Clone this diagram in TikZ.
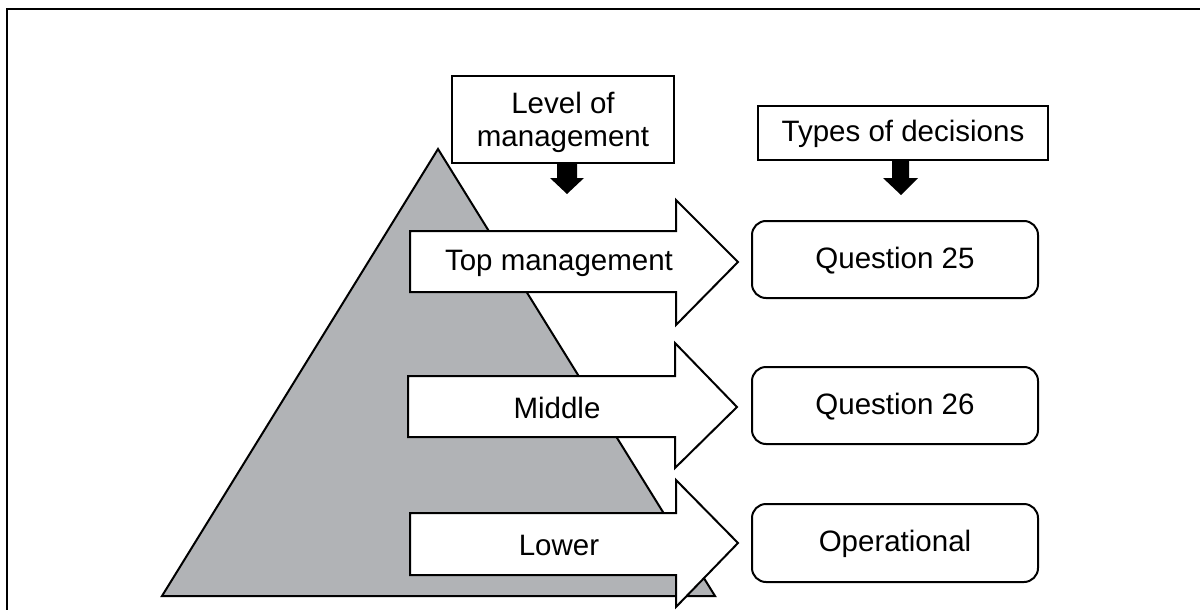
\documentclass[tikz,border=0pt]{standalone}
\usepackage{fontspec}
\setmainfont{Liberation Sans}
\tikzset{
  pyr/.style={draw=black, line width=2pt, fill=pyrgray, line join=miter},
  bigarrow/.style={draw=black, line width=2pt, fill=white, line join=miter},
  hdrbox/.style={draw=black, line width=1.6pt, fill=white},
  decbox/.style={draw=black, line width=2pt, fill=white, rounded corners=14pt},
  downarrow/.style={fill=black, draw=none},
  lbl/.style={font=\fontsize{29.5}{33}\selectfont, align=center, inner sep=0pt},
}
\definecolor{pyrgray}{HTML}{B1B3B6}
\begin{document}
\begin{tikzpicture}[x=1pt, y=-1pt]
\useasboundingbox (0,0) rectangle (1200,610);
% frame
\draw[line width=2.5pt] (7,610) -- (7,9) -- (1200,9);
% pyramid
\draw[pyr] (438,149) -- (715,596) -- (162,596) -- cycle;
% header boxes
\draw[hdrbox] (452,76) rectangle (674,163);
\node[lbl] (lvl) at (563,122) {Level of\\management};
\draw[hdrbox] (758,106) rectangle (1048,160);
\node[lbl] (types) at (903,134) {Types of decisions};
% black down arrows
\fill[downarrow] (557,163) -- (577,163) -- (577,178) -- (584,178) -- (567,194) -- (550,178) -- (557,178) -- cycle;
\fill[downarrow] (892,160) -- (909,160) -- (909,178) -- (918,178) -- (901,195) -- (883,178) -- (892,178) -- cycle;
% big arrows
\draw[bigarrow] (410,231) -- (676,231) -- (676,200) -- (738,262) -- (676,325) -- (676,292) -- (410,292) -- cycle;
\node[lbl] (top) at (559,263) {Top management};
\draw[bigarrow] (408,376) -- (675,376) -- (675,343) -- (737,407) -- (675,468) -- (675,437) -- (408,437) -- cycle;
\node[lbl] (mid) at (557,408) {Middle};
\draw[bigarrow] (410,513) -- (676,513) -- (676,480) -- (738,543) -- (676,607) -- (676,575) -- (410,575) -- cycle;
\node[lbl] (low) at (559,545) {Lower};
% decision boxes
\draw[decbox] (752,221) rectangle (1038,298);
\node[lbl] (q25) at (895,261) {Question 25};
\draw[decbox] (752,367) rectangle (1038,444);
\node[lbl] (q26) at (895,407) {Question 26};
\draw[decbox] (752,504) rectangle (1038,582);
\node[lbl] (op) at (895,544) {Operational};
\end{tikzpicture}
\end{document}
